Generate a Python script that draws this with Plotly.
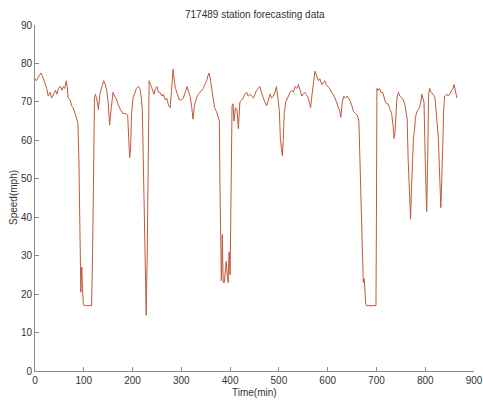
import plotly.graph_objects as go

time_min = [0, 3, 7, 12, 16, 20, 24, 27, 31, 34, 38, 42, 45, 48, 52, 55, 58, 61, 64, 66, 68, 72, 75, 78, 82, 85, 88, 90, 91, 92, 93, 94, 95, 96, 97, 99, 101, 110, 116, 118, 120, 122, 124, 127, 130, 133, 137, 141, 144, 147, 150, 153, 156, 160, 163, 166, 170, 175, 180, 185, 190, 192, 194, 196, 198, 201, 205, 208, 212, 215, 218, 220, 222, 224, 226, 228, 230, 232, 234, 237, 240, 244, 247, 250, 253, 256, 260, 263, 267, 270, 274, 277, 280, 283, 285, 288, 292, 296, 300, 304, 308, 312, 315, 318, 321, 324, 327, 331, 335, 338, 342, 345, 348, 352, 355, 357, 360, 362, 365, 368, 372, 375, 378, 379, 380, 381, 382, 383, 384, 385, 386, 388, 390, 392, 394, 396, 397, 398, 400, 402, 404, 406, 408, 411, 414, 417, 420, 424, 427, 430, 434, 437, 441, 444, 448, 451, 454, 458, 461, 464, 468, 471, 475, 478, 482, 485, 489, 492, 495, 498, 501, 503, 505, 507, 509, 511, 514, 517, 520, 523, 527, 530, 533, 537, 540, 543, 547, 550, 553, 556, 560, 563, 565, 568, 571, 574, 577, 581, 584, 588, 591, 594, 597, 601, 604, 608, 611, 615, 618, 622, 625, 627, 630, 633, 636, 640, 643, 647, 650, 653, 657, 661, 664, 666, 668, 670, 672, 673, 675, 676, 678, 680, 690, 699, 700, 701, 703, 706, 709, 713, 716, 718, 721, 724, 728, 731, 734, 736, 738, 740, 742, 745, 748, 752, 755, 758, 761, 763, 765, 767, 769, 770, 772, 774, 776, 778, 780, 783, 786, 788, 791, 793, 795, 797.5, 800, 802, 803, 805, 807, 809, 812, 816, 820, 823, 825, 827, 829, 831, 832, 834, 836, 838, 840, 844, 847, 850, 854, 857, 859, 862, 865]

speed_mph = [76, 75.5, 76.5, 77.5, 76.5, 75, 73.5, 71.5, 72.5, 71, 72, 73, 72, 73.5, 74, 73, 74, 73.5, 75.5, 74, 71, 70.5, 69, 68.5, 67, 66, 64.5, 55, 45, 35, 26, 20.5, 25, 27, 23, 17.5, 17, 17, 17, 30, 55, 71, 72, 70.5, 68, 72, 74, 75.5, 74.5, 73, 70, 64, 68, 72.5, 71.5, 71, 69.5, 68, 67, 67, 66.5, 60, 55.5, 58, 67, 71, 72.5, 73.5, 74, 73.5, 71, 68, 55, 38, 20, 14.5, 30, 60, 75.5, 74.5, 73.5, 72, 73.5, 74, 72.5, 72.5, 71.5, 72, 70.5, 71, 69, 68.5, 73, 78.5, 76, 73.5, 72, 70.5, 70.5, 71, 72.5, 74, 72.5, 71.5, 69, 65.5, 69, 71, 72, 72.5, 73, 73.5, 74.5, 75.5, 77, 77.5, 75.5, 73.5, 70, 68.5, 67.5, 66.5, 65, 50, 36, 30, 23.5, 28, 35.5, 28, 23, 23, 26, 28.5, 25, 23, 28, 31, 25, 45, 69, 69.5, 65, 68.5, 68, 63, 70, 70.5, 71, 72, 72.5, 71.5, 72, 71.5, 71, 72, 73, 73.5, 74, 72.5, 71, 70, 69, 70.5, 72, 71, 71.5, 72.5, 74, 71, 67.5, 60.5, 57.5, 56, 60, 67, 70, 71, 72, 72.5, 73, 72.5, 74, 73.5, 74.5, 73, 71.5, 72, 72.5, 72, 71, 69.5, 68.5, 72, 75, 78, 77, 75.5, 76, 74.5, 75, 75.5, 74.5, 74, 73.5, 72.5, 72, 71, 70, 69, 67.5, 66, 70, 71.5, 71, 71.5, 71, 70, 68.5, 67.5, 67, 66.5, 65, 55, 45, 33, 25, 23, 24, 20, 17.5, 17, 17, 17, 40, 73.5, 73, 73.5, 72.5, 72.5, 71, 70, 69.5, 69.5, 68, 67, 64, 60.5, 62, 66, 71, 72.5, 71.5, 71, 70.5, 69.5, 67.5, 65.5, 55, 48, 42, 39.5, 48, 56, 61, 62.5, 66, 67.5, 68, 68.5, 70, 72, 71, 70, 55, 45, 41.5, 55, 72, 73.5, 72.5, 72, 71, 66.5, 63, 60.5, 53, 45, 42.5, 50, 62, 68.5, 71.5, 72, 71.5, 72, 73, 73.5, 74.5, 72.5, 71]

x_ticks = [0, 100, 200, 300, 400, 500, 600, 700, 800, 900]
y_ticks = [0, 10, 20, 30, 40, 50, 60, 70, 80, 90]

FONT = "Liberation Sans, Arial, sans-serif"

fig = go.Figure()
fig.add_trace(go.Scatter(
    x=time_min, y=speed_mph, mode="lines",
    line=dict(color="#bf5a3c", width=1),
    showlegend=False, hoverinfo="skip",
))

axis_common = dict(
    showline=True, linecolor="#8a8a8a", linewidth=1,
    ticks="inside", ticklen=4, tickcolor="#8a8a8a",
    showgrid=False, zeroline=False, mirror=False, automargin=False,
    tickfont=dict(family=FONT, size=10, color="#333"),
)

fig.update_layout(
    width=483, height=401,
    margin=dict(l=35, r=9, t=25, b=30, autoexpand=False),
    paper_bgcolor="white", plot_bgcolor="white",
    xaxis=dict(range=[0, 900], tickvals=x_ticks, **axis_common),
    yaxis=dict(range=[0, 90], tickvals=y_ticks, **axis_common),
    annotations=[
        dict(text="717489 station forecasting data", xref="paper", yref="paper",
             x=0.5, y=1, yshift=11, xanchor="center", yanchor="middle",
             showarrow=False, font=dict(family=FONT, size=10, color="#333")),
        dict(text="Time(min)", xref="paper", yref="paper",
             x=0.5, y=0, yshift=-21, xanchor="center", yanchor="middle",
             showarrow=False, font=dict(family=FONT, size=10, color="#333")),
        dict(text="Speed(mph)", xref="paper", yref="paper",
             x=0, y=0.5, xshift=-22, xanchor="center", yanchor="middle", textangle=-90,
             showarrow=False, font=dict(family=FONT, size=10, color="#333")),
    ],
)

fig.write_html(
    "out.html",
    config={"displayModeBar": False},
    post_script="document.body.style.margin='0';document.body.style.overflow='hidden';",
)
